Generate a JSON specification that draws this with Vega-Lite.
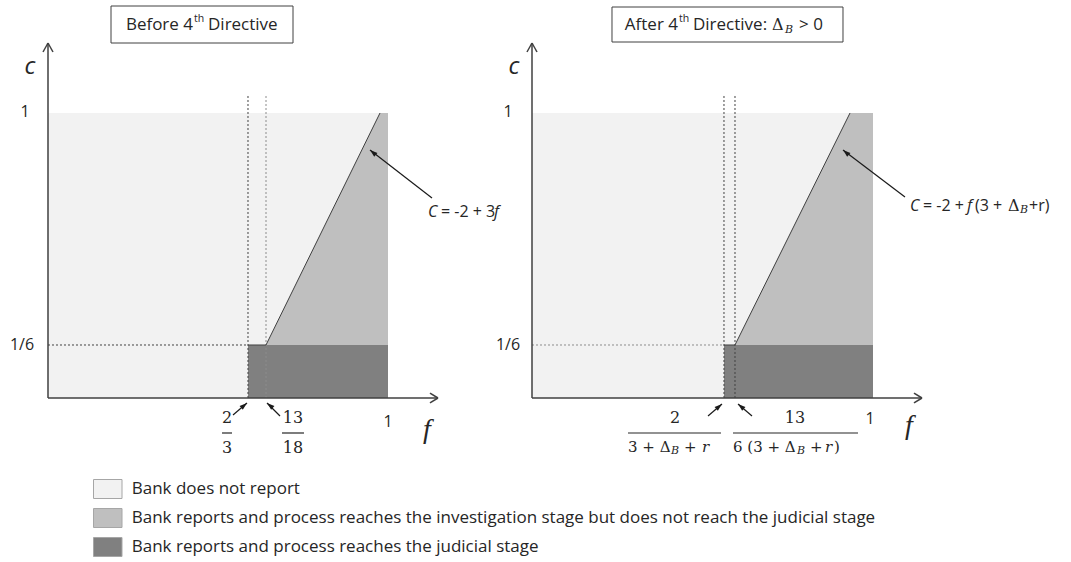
{
"$schema":"https://vega.github.io/schema/vega-lite/v6.json",
"width":1071,"height":562,"autosize":{"type":"fit","contains":"padding"},"padding":0,"background":"white",
"config":{"view":{"stroke":null},"axis":{"disable":true},
 "legend":{"orient":"none","legendX":97.75,"legendY":479,"symbolType":"M-1.5,-1H1.5V1H-1.5Z","symbolSize":361,"symbolStrokeColor":"#a6a6a6","symbolStrokeWidth":1,"symbolOpacity":1,"labelFont":"Open Sans","labelFontSize":17,"labelColor":"#262626","labelOffset":14,"rowPadding":5,"labelLimit":1200,"padding":0}},
"datasets":{
 "reg":[
  {"panel":"L","region":"Bank does not report","f":0,"f2":1,"c":0,"c2":1},
  {"panel":"L","region":"Bank reports and process reaches the judicial stage","f":0.5882,"f2":1,"c":0,"c2":0.186},
  {"panel":"R","region":"Bank does not report","f":0,"f2":1,"c":0,"c2":1},
  {"panel":"R","region":"Bank reports and process reaches the judicial stage","f":0.563,"f2":1,"c":0,"c2":0.186}],
 "mid":[
  {"panel":"L","region":"Bank reports and process reaches the investigation stage but does not reach the judicial stage","f":0.6412,"c":0.186,"c2":0.186},
  {"panel":"L","region":"Bank reports and process reaches the investigation stage but does not reach the judicial stage","f":0.9765,"c":1,"c2":0.186},
  {"panel":"L","region":"Bank reports and process reaches the investigation stage but does not reach the judicial stage","f":1,"c":1,"c2":0.186},
  {"panel":"R","region":"Bank reports and process reaches the investigation stage but does not reach the judicial stage","f":0.5953,"c":0.186,"c2":0.186},
  {"panel":"R","region":"Bank reports and process reaches the investigation stage but does not reach the judicial stage","f":0.9326,"c":1,"c2":0.186},
  {"panel":"R","region":"Bank reports and process reaches the investigation stage but does not reach the judicial stage","f":1,"c":1,"c2":0.186}],
 "dd":[
  {"panel":"L","f":0.5882,"f2":0.5882,"c":0,"c2":1.063},
  {"panel":"L","f":0,"f2":0.5882,"c":0.186,"c2":0.186},
  {"panel":"R","f":0.563,"f2":0.563,"c":0,"c2":1.063},
  {"panel":"R","f":0.5953,"f2":0.5953,"c":0,"c2":1.063}],
 "dl":[
  {"panel":"L","f":0.6412,"f2":0.6412,"c":0,"c2":1.063},
  {"panel":"R","f":0,"f2":0.563,"c":0.186,"c2":0.186}],
 "dg":[
  {"panel":"L","f":0.5882,"f2":0.6412,"c":0.186,"c2":0.186},
  {"panel":"L","f":0.6412,"f2":0.9765,"c":0.186,"c2":1},
  {"panel":"R","f":0.563,"f2":0.5953,"c":0.186,"c2":0.186},
  {"panel":"R","f":0.5953,"f2":0.9326,"c":0.186,"c2":1}],
 "ax":[
  {"panel":"L","f":0,"f2":0,"c":0,"c2":1.2456},
  {"panel":"L","f":0,"f2":1.147,"c":0,"c2":0},
  {"panel":"L","f":-0.0147,"f2":0,"c":1.214,"c2":1.2456},
  {"panel":"L","f":0.0147,"f2":0,"c":1.214,"c2":1.2456},
  {"panel":"L","f":1.1235,"f2":1.147,"c":0.0175,"c2":0},
  {"panel":"L","f":1.1235,"f2":1.147,"c":-0.0175,"c2":0},
  {"panel":"R","f":0,"f2":0,"c":0,"c2":1.2456},
  {"panel":"R","f":0,"f2":1.1437,"c":0,"c2":0},
  {"panel":"R","f":-0.0147,"f2":0,"c":1.214,"c2":1.2456},
  {"panel":"R","f":0.0147,"f2":0,"c":1.214,"c2":1.2456},
  {"panel":"R","f":1.1202,"f2":1.1437,"c":0.0175,"c2":0},
  {"panel":"R","f":1.1202,"f2":1.1437,"c":-0.0175,"c2":0}],
 "ar":[
  {"panel":"L","f":0.5441,"c":-0.0596,"f2":0.5853,"c2":-0.0175},
  {"panel":"L","f":0.6824,"c":-0.0632,"f2":0.6441,"c2":-0.0175},
  {"panel":"L","f":1.1294,"c":0.7018,"f2":0.9471,"c2":0.8702},
  {"panel":"R","f":0.5161,"c":-0.0632,"f2":0.5572,"c2":-0.0211},
  {"panel":"R","f":0.6452,"c":-0.0632,"f2":0.6041,"c2":-0.0211},
  {"panel":"R","f":1.0938,"c":0.7053,"f2":0.912,"c2":0.8702}],
 "hr":[
  {"panel":"L","f":0.5853,"c":-0.0175},
  {"panel":"R","f":0.5572,"c":-0.0211}],
 "hl":[
  {"panel":"L","f":0.6441,"c":-0.0175},
  {"panel":"L","f":0.9471,"c":0.8702},
  {"panel":"R","f":0.6041,"c":-0.0211},
  {"panel":"R","f":0.912,"c":0.8702}],
 "bx":[
  {"panel":"L","f":0.1853,"f2":0.7206,"c":1.2456,"c2":1.3754},
  {"panel":"R","f":0.2346,"f2":0.912,"c":1.2491,"c2":1.3719}],
 "fb":[
  {"panel":"L","f":0.5118,"f2":0.5412,"c":-0.1228,"c2":-0.1228},
  {"panel":"L","f":0.6882,"f2":0.7529,"c":-0.1228,"c2":-0.1228},
  {"panel":"R","f":0.2815,"f2":0.5543,"c":-0.1228,"c2":-0.1228},
  {"panel":"R","f":0.5894,"f2":0.956,"c":-0.1228,"c2":-0.1228}],
 "tx":[
  {"panel":"L","cls":"tick","t":"1","f":-0.0676,"c":1.0035},
  {"panel":"L","cls":"tick","t":"1/6","f":-0.0765,"c":0.186},
  {"panel":"L","cls":"tick","t":"1","f":1.0,"c":-0.0842},
  {"panel":"R","cls":"tick","t":"1","f":-0.0704,"c":1.0035},
  {"panel":"R","cls":"tick","t":"1/6","f":-0.0704,"c":0.186},
  {"panel":"R","cls":"tick","t":"1","f":0.9912,"c":-0.0737},
  {"panel":"L","cls":"cvar","t":"c","f":-0.0529,"c":1.1614},
  {"panel":"R","cls":"cvar","t":"c","f":-0.0528,"c":1.1614},
  {"panel":"L","cls":"fvar","t":"f","f":1.1147,"c":-0.1123},
  {"panel":"R","cls":"fvar","t":"f","f":1.1056,"c":-0.0982},
  {"panel":"L","cls":"frac","t":"2","f":0.5265,"c":-0.0702},
  {"panel":"L","cls":"frac","t":"3","f":0.5265,"c":-0.1754},
  {"panel":"L","cls":"frac","t":"13","f":0.7206,"c":-0.0702},
  {"panel":"L","cls":"frac","t":"18","f":0.7206,"c":-0.1754},
  {"panel":"R","cls":"frac","t":"2","f":0.4194,"c":-0.0702},
  {"panel":"R","cls":"frac","t":"13","f":0.7713,"c":-0.0702},
  {"panel":"R","cls":"den","t":"3 + Δ","f":0.2815,"c":-0.1719},
  {"panel":"R","cls":"den","t":"+","f":0.4457,"c":-0.1719},
  {"panel":"R","cls":"den","t":"6 (3 + Δ","f":0.5894,"c":-0.1719},
  {"panel":"R","cls":"den","t":"+","f":0.8152,"c":-0.1719},
  {"panel":"R","cls":"den","t":")","f":0.8856,"c":-0.1719},
  {"panel":"R","cls":"denit","t":"r","f":0.4985,"c":-0.1719},
  {"panel":"R","cls":"denit","t":"r","f":0.8592,"c":-0.1719},
  {"panel":"R","cls":"sub","t":"B","f":0.4076,"c":-0.186},
  {"panel":"R","cls":"sub","t":"B","f":0.7771,"c":-0.186},
  {"panel":"R","cls":"sub","t":"B","f":0.7419,"c":1.2912},
  {"panel":"R","cls":"sub","t":"B","f":1.4311,"c":0.6596},
  {"panel":"L","cls":"anit","t":"C","f":1.1176,"c":0.6526},
  {"panel":"L","cls":"anit","t":"f","f":1.3118,"c":0.6526},
  {"panel":"R","cls":"anit","t":"C","f":1.1085,"c":0.6737},
  {"panel":"R","cls":"anit","t":"f","f":1.2757,"c":0.6737},
  {"panel":"L","cls":"an","t":"= -2 + 3","f":1.1559,"c":0.6526},
  {"panel":"R","cls":"an","t":"= -2 +","f":1.1466,"c":0.6737},
  {"panel":"R","cls":"an","t":"(3 +","f":1.2991,"c":0.6737},
  {"panel":"R","cls":"an","t":"+r)","f":1.4575,"c":0.6737},
  {"panel":"L","cls":"titR","t":"Before 4","f":0.4265,"c":1.3088},
  {"panel":"R","cls":"titR","t":"After 4","f":0.4282,"c":1.3088},
  {"panel":"L","cls":"sup","t":"th","f":0.4294,"c":1.3298},
  {"panel":"R","cls":"sup","t":"th","f":0.4311,"c":1.3298},
  {"panel":"L","cls":"titL","t":"Directive","f":0.4706,"c":1.3088},
  {"panel":"R","cls":"titL","t":"Directive:","f":0.4721,"c":1.3088},
  {"panel":"R","cls":"titL","t":"> 0","f":0.783,"c":1.3088},
  {"panel":"R","cls":"titD","t":"Δ","f":0.7038,"c":1.3088},
  {"panel":"R","cls":"titD","t":"Δ","f":1.3959,"c":0.6737}]
},
"resolve":{"scale":{"x":"independent"}},
"layer":[
{
 "encoding":{
  "x":{"field":"f","type":"quantitative","scale":{"domain":[-0.141176,3.008824],"nice":false,"zero":false}},
  "y":{"field":"c","type":"quantitative","scale":{"domain":[-0.57544,1.39649],"nice":false,"zero":false}}},
 "layer":[
  {"data":{"name":"reg"},"transform":[{"filter":"datum.panel==='L'"}],"mark":{"type":"rect"},
   "encoding":{"x2":{"field":"f2"},"y2":{"field":"c2"},"fill":{"field":"region","type":"nominal","scale":{"domain":["Bank does not report","Bank reports and process reaches the investigation stage but does not reach the judicial stage","Bank reports and process reaches the judicial stage"],"range":["#f2f2f2","#bfbfbf","#808080"]},"legend":{"title":null}}}},
  {"data":{"name":"mid"},"transform":[{"filter":"datum.panel==='L'"}],"mark":{"type":"area","opacity":1},
   "encoding":{"y2":{"field":"c2"},"fill":{"field":"region","type":"nominal","legend":{"title":null}}}},
  {"data":{"name":"dd"},"transform":[{"filter":"datum.panel==='L'"}],"mark":{"type":"rule","color":"#404040","strokeWidth":1,"strokeDash":[2,2]},
   "encoding":{"x2":{"field":"f2"},"y2":{"field":"c2"}}},
  {"data":{"name":"dl"},"transform":[{"filter":"datum.panel==='L'"}],"mark":{"type":"rule","color":"#8c8c8c","strokeWidth":1,"strokeDash":[2,2]},
   "encoding":{"x2":{"field":"f2"},"y2":{"field":"c2"}}},
  {"data":{"name":"dg"},"transform":[{"filter":"datum.panel==='L'"}],"mark":{"type":"rule","color":"#404040","strokeWidth":1},
   "encoding":{"x2":{"field":"f2"},"y2":{"field":"c2"}}},
  {"data":{"name":"ax"},"transform":[{"filter":"datum.panel==='L'"}],"mark":{"type":"rule","color":"#404040","strokeWidth":1.5},
   "encoding":{"x2":{"field":"f2"},"y2":{"field":"c2"}}},
  {"data":{"name":"ar"},"transform":[{"filter":"datum.panel==='L'"}],"mark":{"type":"rule","color":"#1a1a1a","strokeWidth":1.2},
   "encoding":{"x2":{"field":"f2"},"y2":{"field":"c2"}}},
  {"data":{"name":"hr"},"transform":[{"filter":"datum.panel==='L'"}],"mark":{"type":"point","shape":"M0,0L0.8,2.4L-0.8,2.4Z","filled":true,"size":40,"angle":50,"color":"#1a1a1a","opacity":1,"strokeWidth":0}},
  {"data":{"name":"hl"},"transform":[{"filter":"datum.panel==='L'"}],"mark":{"type":"point","shape":"M0,0L0.8,2.4L-0.8,2.4Z","filled":true,"size":40,"angle":-50,"color":"#1a1a1a","opacity":1,"strokeWidth":0}},
  {"data":{"name":"bx"},"transform":[{"filter":"datum.panel==='L'"}],"mark":{"type":"rect","fill":"white","stroke":"#404040","strokeWidth":1},
   "encoding":{"x2":{"field":"f2"},"y2":{"field":"c2"}}},
  {"data":{"name":"fb"},"transform":[{"filter":"datum.panel==='L'"}],"mark":{"type":"rule","color":"#262626","strokeWidth":1.2},
   "encoding":{"x2":{"field":"f2"},"y2":{"field":"c2"}}},
  {"data":{"name":"tx"},"transform":[{"filter":"datum.panel==='L'&&datum.cls==='tick'"}],"mark":{"type":"text","font":"Open Sans","fontSize":16,"align":"center","baseline":"middle","color":"#262626"},"encoding":{"text":{"field":"t"}}},
  {"data":{"name":"tx"},"transform":[{"filter":"datum.panel==='L'&&datum.cls==='cvar'"}],"mark":{"type":"text","font":"Open Sans","fontSize":24,"fontStyle":"italic","align":"center","baseline":"middle","color":"#262626"},"encoding":{"text":{"field":"t"}}},
  {"data":{"name":"tx"},"transform":[{"filter":"datum.panel==='L'&&datum.cls==='fvar'"}],"mark":{"type":"text","font":"Liberation Serif","fontSize":28,"fontStyle":"italic","align":"center","baseline":"middle","color":"#262626"},"encoding":{"text":{"field":"t"}}},
  {"data":{"name":"tx"},"transform":[{"filter":"datum.panel==='L'&&datum.cls==='frac'"}],"mark":{"type":"text","font":"DejaVu Serif","fontSize":16,"align":"center","baseline":"middle","color":"#262626"},"encoding":{"text":{"field":"t"}}},
  {"data":{"name":"tx"},"transform":[{"filter":"datum.panel==='L'&&datum.cls==='anit'"}],"mark":{"type":"text","font":"Open Sans","fontSize":16,"fontStyle":"italic","align":"left","baseline":"middle","color":"#262626"},"encoding":{"text":{"field":"t"}}},
  {"data":{"name":"tx"},"transform":[{"filter":"datum.panel==='L'&&datum.cls==='an'"}],"mark":{"type":"text","font":"Open Sans","fontSize":16,"align":"left","baseline":"middle","color":"#262626"},"encoding":{"text":{"field":"t"}}},
  {"data":{"name":"tx"},"transform":[{"filter":"datum.panel==='L'&&datum.cls==='titR'"}],"mark":{"type":"text","font":"Open Sans","fontSize":17,"align":"right","baseline":"middle","color":"#262626"},"encoding":{"text":{"field":"t"}}},
  {"data":{"name":"tx"},"transform":[{"filter":"datum.panel==='L'&&datum.cls==='sup'"}],"mark":{"type":"text","font":"Open Sans","fontSize":10.5,"align":"left","baseline":"middle","color":"#262626"},"encoding":{"text":{"field":"t"}}},
  {"data":{"name":"tx"},"transform":[{"filter":"datum.panel==='L'&&datum.cls==='titL'"}],"mark":{"type":"text","font":"Open Sans","fontSize":17,"align":"left","baseline":"middle","color":"#262626"},"encoding":{"text":{"field":"t"}}}
 ]
},
{
 "encoding":{
  "x":{"field":"f","type":"quantitative","scale":{"domain":[-1.560117,1.580645],"nice":false,"zero":false}},
  "y":{"field":"c","type":"quantitative","scale":{"domain":[-0.57544,1.39649],"nice":false,"zero":false}}},
 "layer":[
  {"data":{"name":"reg"},"transform":[{"filter":"datum.panel==='R'"}],"mark":{"type":"rect"},
   "encoding":{"x2":{"field":"f2"},"y2":{"field":"c2"},"fill":{"field":"region","type":"nominal","legend":{"title":null}}}},
  {"data":{"name":"mid"},"transform":[{"filter":"datum.panel==='R'"}],"mark":{"type":"area","opacity":1},
   "encoding":{"y2":{"field":"c2"},"fill":{"field":"region","type":"nominal","legend":{"title":null}}}},
  {"data":{"name":"dd"},"transform":[{"filter":"datum.panel==='R'"}],"mark":{"type":"rule","color":"#404040","strokeWidth":1,"strokeDash":[2,2]},
   "encoding":{"x2":{"field":"f2"},"y2":{"field":"c2"}}},
  {"data":{"name":"dl"},"transform":[{"filter":"datum.panel==='R'"}],"mark":{"type":"rule","color":"#8c8c8c","strokeWidth":1,"strokeDash":[2,2]},
   "encoding":{"x2":{"field":"f2"},"y2":{"field":"c2"}}},
  {"data":{"name":"dg"},"transform":[{"filter":"datum.panel==='R'"}],"mark":{"type":"rule","color":"#404040","strokeWidth":1},
   "encoding":{"x2":{"field":"f2"},"y2":{"field":"c2"}}},
  {"data":{"name":"ax"},"transform":[{"filter":"datum.panel==='R'"}],"mark":{"type":"rule","color":"#404040","strokeWidth":1.5},
   "encoding":{"x2":{"field":"f2"},"y2":{"field":"c2"}}},
  {"data":{"name":"ar"},"transform":[{"filter":"datum.panel==='R'"}],"mark":{"type":"rule","color":"#1a1a1a","strokeWidth":1.2},
   "encoding":{"x2":{"field":"f2"},"y2":{"field":"c2"}}},
  {"data":{"name":"hr"},"transform":[{"filter":"datum.panel==='R'"}],"mark":{"type":"point","shape":"M0,0L0.8,2.4L-0.8,2.4Z","filled":true,"size":40,"angle":50,"color":"#1a1a1a","opacity":1,"strokeWidth":0}},
  {"data":{"name":"hl"},"transform":[{"filter":"datum.panel==='R'"}],"mark":{"type":"point","shape":"M0,0L0.8,2.4L-0.8,2.4Z","filled":true,"size":40,"angle":-50,"color":"#1a1a1a","opacity":1,"strokeWidth":0}},
  {"data":{"name":"bx"},"transform":[{"filter":"datum.panel==='R'"}],"mark":{"type":"rect","fill":"white","stroke":"#404040","strokeWidth":1},
   "encoding":{"x2":{"field":"f2"},"y2":{"field":"c2"}}},
  {"data":{"name":"fb"},"transform":[{"filter":"datum.panel==='R'"}],"mark":{"type":"rule","color":"#262626","strokeWidth":1.2},
   "encoding":{"x2":{"field":"f2"},"y2":{"field":"c2"}}},
  {"data":{"name":"tx"},"transform":[{"filter":"datum.panel==='R'&&datum.cls==='tick'"}],"mark":{"type":"text","font":"Open Sans","fontSize":16,"align":"center","baseline":"middle","color":"#262626"},"encoding":{"text":{"field":"t"}}},
  {"data":{"name":"tx"},"transform":[{"filter":"datum.panel==='R'&&datum.cls==='cvar'"}],"mark":{"type":"text","font":"Open Sans","fontSize":24,"fontStyle":"italic","align":"center","baseline":"middle","color":"#262626"},"encoding":{"text":{"field":"t"}}},
  {"data":{"name":"tx"},"transform":[{"filter":"datum.panel==='R'&&datum.cls==='fvar'"}],"mark":{"type":"text","font":"Liberation Serif","fontSize":28,"fontStyle":"italic","align":"center","baseline":"middle","color":"#262626"},"encoding":{"text":{"field":"t"}}},
  {"data":{"name":"tx"},"transform":[{"filter":"datum.panel==='R'&&datum.cls==='frac'"}],"mark":{"type":"text","font":"DejaVu Serif","fontSize":16,"align":"center","baseline":"middle","color":"#262626"},"encoding":{"text":{"field":"t"}}},
  {"data":{"name":"tx"},"transform":[{"filter":"datum.panel==='R'&&datum.cls==='den'"}],"mark":{"type":"text","font":"DejaVu Serif","fontSize":15,"align":"left","baseline":"middle","color":"#262626"},"encoding":{"text":{"field":"t"}}},
  {"data":{"name":"tx"},"transform":[{"filter":"datum.panel==='R'&&datum.cls==='denit'"}],"mark":{"type":"text","font":"DejaVu Serif","fontSize":15,"fontStyle":"italic","align":"left","baseline":"middle","color":"#262626"},"encoding":{"text":{"field":"t"}}},
  {"data":{"name":"tx"},"transform":[{"filter":"datum.panel==='R'&&datum.cls==='sub'"}],"mark":{"type":"text","font":"DejaVu Serif","fontSize":11,"fontStyle":"italic","align":"left","baseline":"middle","color":"#262626"},"encoding":{"text":{"field":"t"}}},
  {"data":{"name":"tx"},"transform":[{"filter":"datum.panel==='R'&&datum.cls==='titD'"}],"mark":{"type":"text","font":"DejaVu Serif","fontSize":16,"align":"left","baseline":"middle","color":"#262626"},"encoding":{"text":{"field":"t"}}},
  {"data":{"name":"tx"},"transform":[{"filter":"datum.panel==='R'&&datum.cls==='anit'"}],"mark":{"type":"text","font":"Open Sans","fontSize":16,"fontStyle":"italic","align":"left","baseline":"middle","color":"#262626"},"encoding":{"text":{"field":"t"}}},
  {"data":{"name":"tx"},"transform":[{"filter":"datum.panel==='R'&&datum.cls==='an'"}],"mark":{"type":"text","font":"Open Sans","fontSize":16,"align":"left","baseline":"middle","color":"#262626"},"encoding":{"text":{"field":"t"}}},
  {"data":{"name":"tx"},"transform":[{"filter":"datum.panel==='R'&&datum.cls==='titR'"}],"mark":{"type":"text","font":"Open Sans","fontSize":17,"align":"right","baseline":"middle","color":"#262626"},"encoding":{"text":{"field":"t"}}},
  {"data":{"name":"tx"},"transform":[{"filter":"datum.panel==='R'&&datum.cls==='sup'"}],"mark":{"type":"text","font":"Open Sans","fontSize":10.5,"align":"left","baseline":"middle","color":"#262626"},"encoding":{"text":{"field":"t"}}},
  {"data":{"name":"tx"},"transform":[{"filter":"datum.panel==='R'&&datum.cls==='titL'"}],"mark":{"type":"text","font":"Open Sans","fontSize":17,"align":"left","baseline":"middle","color":"#262626"},"encoding":{"text":{"field":"t"}}}
 ]
}
]
}
